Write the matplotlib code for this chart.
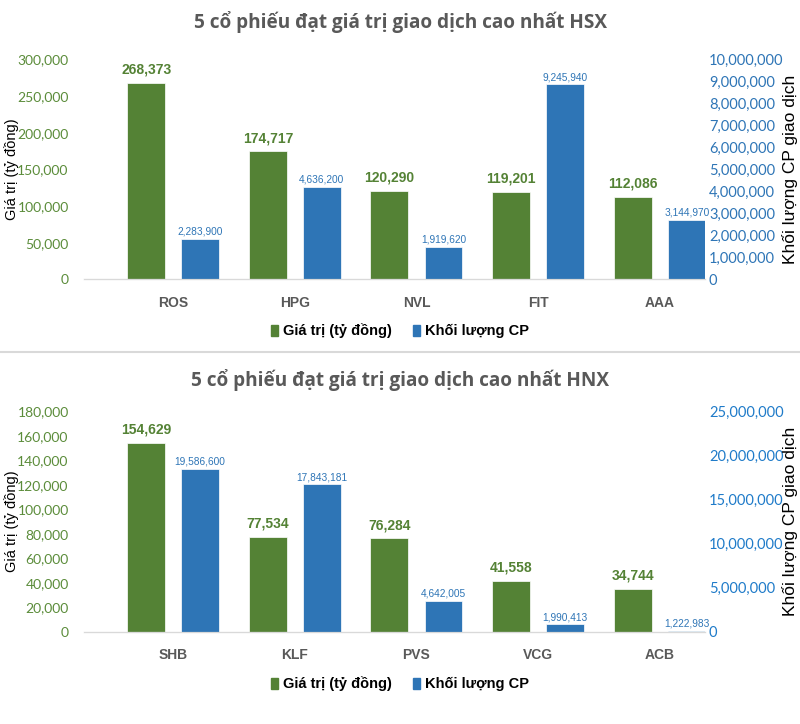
import matplotlib
matplotlib.use("Agg")
import matplotlib.pyplot as plt
from matplotlib.patches import Patch
from matplotlib.lines import Line2D
from matplotlib.ticker import FuncFormatter

# Dữ liệu HSX
ma_hsx = ["ROS", "HPG", "NVL", "FIT", "AAA"]
gt_hsx = [268373, 174717, 120290, 119201, 112086]
kl_hsx = [2283900, 4636200, 1919620, 9245940, 3144970]

# Dữ liệu HNX
ma_hnx = ["SHB", "KLF", "PVS", "VCG", "ACB"]
gt_hnx = [154629, 77534, 76284, 41558, 34744]
kl_hnx = [19586600, 17843181, 4642005, 1990413, 1222983]

XANH_LA = "#548235"
XANH_DUONG = "#2E75B6"
XAM = "#595959"
ARIAL = "Liberation Sans"
so = FuncFormatter(lambda v, p: f"{v:,.0f}")

fig = plt.figure(figsize=(8, 7.24), dpi=100)


def ve_panel(bottom, title, title_y, ma, gt, kl, gt_max, gt_step,
             kl_max, kl_step, kl_lo, kl_hi, mau_tick_phai, legend_y):
    ax = fig.add_axes([0.105, bottom, 0.776, 0.304])
    ax_bar = ax.twinx()    # truc cho cot khoi luong
    ax_tick = ax.twinx()   # truc hien thi nhan ben phai

    x = range(len(ma))
    w = 0.312
    d = 0.222
    ax.bar([i - d for i in x], gt, width=w, color=XANH_LA,
           edgecolor="white", linewidth=0.5)
    ax_bar.bar([i + d for i in x], kl, width=w, color=XANH_DUONG,
               edgecolor="white", linewidth=0.5)

    for i in x:
        ax.annotate(f"{gt[i]:,}", (i - d, gt[i]), xytext=(0, 4.5),
                    textcoords="offset points", ha="center", va="bottom",
                    fontsize=10, fontweight="bold", color=XANH_LA,
                    family=ARIAL)
        ax_bar.annotate(f"{kl[i]:,}", (i + d, kl[i]), xytext=(0, 1.5),
                        textcoords="offset points", ha="center",
                        va="bottom", fontsize=7.3, color=XANH_DUONG,
                        family=ARIAL)

    ax.set_xlim(-0.733, 4.37)
    ax.set_ylim(0, gt_max)
    ax.set_yticks(range(0, gt_max + 1, gt_step))
    ax.yaxis.set_major_formatter(so)
    ax.tick_params(axis="y", length=0, pad=11, labelsize=10,
                   labelcolor="#5b8c3a")
    ax.set_xticks(list(x))
    ax.set_xticklabels(ma, fontsize=10, fontweight="bold", color=XAM,
                       family=ARIAL)
    ax.tick_params(axis="x", length=0, pad=12)
    for lb in ax.get_yticklabels():
        lb.set_family("Lato")

    ax_bar.set_ylim(kl_lo, kl_hi)
    ax_bar.set_yticks([])

    ax_tick.set_ylim(0, kl_max)
    ax_tick.set_yticks(range(0, kl_max + 1, kl_step))
    ax_tick.yaxis.set_major_formatter(so)
    ax_tick.tick_params(axis="y", length=0, pad=3, labelsize=10.5,
                        labelcolor=mau_tick_phai)
    for lb in ax_tick.get_yticklabels():
        lb.set_family("Lato")

    for a in (ax, ax_bar, ax_tick):
        for s in ("left", "right", "top"):
            a.spines[s].set_visible(False)
        a.spines["bottom"].set_color("#d9d9d9")

    fig.text(0.5, title_y, title, ha="center", va="center", fontsize=13.7,
             fontweight="bold", color=XAM, family="Open Sans")
    yc = bottom + 0.152
    fig.text(0.015, yc, "Giá trị (tỷ đồng)", rotation=90, ha="center",
             va="center", fontsize=10.5, family=ARIAL)
    fig.text(0.988, yc, "Khối lượng CP giao dịch", rotation=90,
             ha="center", va="center", fontsize=12.5, family=ARIAL)

    handles = [Patch(color=XANH_LA, label="Giá trị (tỷ đồng)"),
               Patch(color=XANH_DUONG, label="Khối lượng CP")]
    fig.legend(handles=handles, loc="center", bbox_to_anchor=(0.5, legend_y),
               ncol=2, frameon=False, handlelength=0.45, handleheight=0.8,
               handletextpad=0.35, columnspacing=1.45,
               prop={"family": ARIAL, "weight": "bold", "size": 10.5})


ve_panel(0.614, "5 cổ phiếu đạt giá trị giao dịch cao nhất HSX",
         1 - 22 / 724, ma_hsx, gt_hsx, kl_hsx, 300000, 50000,
         10000000, 1000000, 447000, 10375000, XANH_DUONG, 1 - 331 / 724)

ve_panel(0.1275, "5 cổ phiếu đạt giá trị giao dịch cao nhất HNX",
         1 - 380 / 724, ma_hnx, gt_hnx, kl_hnx, 180000, 20000,
         25000000, 5000000, 1154000, 26040000, "#1f7bc9", 1 - 684 / 724)

# duong ke phan cach hai bieu do
fig.add_artist(Line2D([0, 1], [1 - 352 / 724] * 2, color="#d9d9d9", lw=1.5))

fig.savefig("out.png", dpi=100)
